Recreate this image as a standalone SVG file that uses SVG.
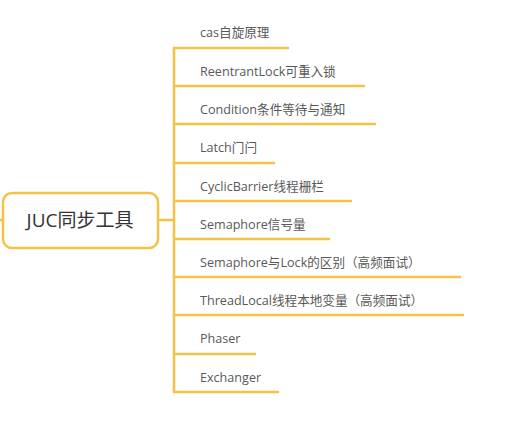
<svg xmlns="http://www.w3.org/2000/svg" width="510" height="434" viewBox="0 0 510 434">
<style>
.ln{stroke:#F4C244;stroke-width:2.5;fill:none;stroke-linecap:round}
.t{font-family:"Open Sans","Noto Sans","Noto Sans CJK SC",sans-serif;font-size:12.6px;fill:#595959}
.rt{font-family:"Open Sans","Noto Sans","Noto Sans CJK SC",sans-serif;font-size:19px;fill:#333}
</style>
<rect width="510" height="434" fill="#fff"/>
<g id="connectors">
<path class="ln" d="M0 220H3M158 220H174M174 48V392"/>
<path class="ln" d="M174 48H288M174 86H364M174 124H375M174 163H274M174 201H351M174 239H329M174 277H460M174 315H463M174 354H255M174 392H278"/>
</g>
<g id="root">
<rect x="3" y="193" width="155" height="55" rx="9" fill="#fff" stroke="#F4C244" stroke-width="2.5"/>
<text class="rt" x="80" y="227" text-anchor="middle">JUC同步工具</text>
</g>
<g id="n1"><text class="t" x="200" y="37">cas自旋原理</text></g>
<g id="n2"><text class="t" x="200" y="76">ReentrantLock可重入锁</text></g>
<g id="n3"><text class="t" x="200" y="114">Condition条件等待与通知</text></g>
<g id="n4"><text class="t" x="200" y="152">Latch门闩</text></g>
<g id="n5"><text class="t" x="200" y="191">CyclicBarrier线程栅栏</text></g>
<g id="n6"><text class="t" x="200" y="229">Semaphore信号量</text></g>
<g id="n7"><text class="t" x="200" y="267">Semaphore与Lock的区别（高频面试）</text></g>
<g id="n8"><text class="t" x="200" y="305">ThreadLocal线程本地变量（高频面试）</text></g>
<g id="n9"><text class="t" x="200" y="343">Phaser</text></g>
<g id="n10"><text class="t" x="200" y="382">Exchanger</text></g>
</svg>
